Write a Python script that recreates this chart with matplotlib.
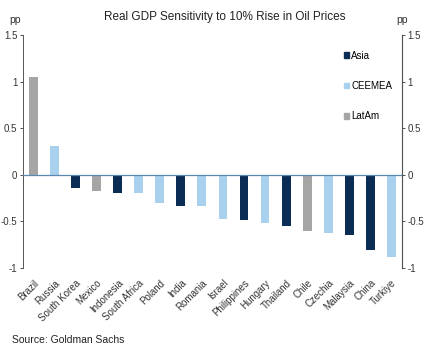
import matplotlib
matplotlib.use("Agg")
import matplotlib.pyplot as plt
from matplotlib.patches import Patch

plt.rcParams['font.family'] = ['Liberation Sans Narrow', 'Liberation Sans', 'DejaVu Sans']

countries = ["Brazil", "Russia", "South Korea", "Mexico", "Indonesia", "South Africa",
             "Poland", "India", "Romania", "Israel", "Philippines", "Hungary",
             "Thailand", "Chile", "Czechia", "Malaysia", "China", "Turkiye"]
regions = ["LatAm", "CEEMEA", "Asia", "LatAm", "Asia", "CEEMEA",
           "CEEMEA", "Asia", "CEEMEA", "CEEMEA", "Asia", "CEEMEA",
           "Asia", "LatAm", "CEEMEA", "Asia", "Asia", "CEEMEA"]
values = [1.05, 0.31, -0.14, -0.17, -0.19, -0.20,
          -0.30, -0.33, -0.33, -0.47, -0.48, -0.52,
          -0.55, -0.60, -0.62, -0.65, -0.81, -0.88]

colors = {"Asia": "#0b2d55", "CEEMEA": "#a9d1ee", "LatAm": "#a5a5a5"}
yticks = [-1, -0.5, 0, 0.5, 1, 1.5]
ytick_labels = ["-1", "-0.5", "0", "0.5", "1", "1.5"]

fig = plt.figure(figsize=(4.3, 3.56), dpi=100)
ax = fig.add_axes([0.0535, 0.247, 0.881, 0.655])

x = list(range(len(countries)))
ax.bar(x, values, width=0.42, color=[colors[r] for r in regions], zorder=2)

ax.set_xlim(-0.5, len(countries) - 0.5)
ax.set_ylim(-1, 1.5)
ax.axhline(0, color="#5b87b5", lw=0.9, zorder=3)

for s in ["top", "bottom"]:
    ax.spines[s].set_visible(False)
ax.spines["left"].set_color("#555555")
ax.spines["left"].set_linewidth(0.7)

ax.set_yticks(yticks)
ax.set_yticklabels(ytick_labels)
ax.tick_params(axis="y", labelsize=7, length=2, width=0.6, colors="#333333", pad=2)
ax.set_xticks(x)
ax.set_xticklabels(countries, rotation=45, ha="right", rotation_mode="anchor",
                   fontsize=7, color="#333333")
ax.tick_params(axis="x", length=0, pad=7)

ax2 = ax.twinx()
ax2.set_ylim(-1, 1.5)
ax2.set_yticks(yticks)
ax2.set_yticklabels(ytick_labels)
ax2.tick_params(axis="y", labelsize=7, length=2, width=0.6, colors="#333333", pad=2)
for s in ["top", "bottom", "left"]:
    ax2.spines[s].set_visible(False)
ax2.spines["right"].set_color("#555555")
ax2.spines["right"].set_linewidth(0.7)

fig.text(0.523, 0.953, "Real GDP Sensitivity to 10% Rise in Oil Prices",
         ha="center", va="center", fontsize=8.5, color="#222222")
fig.text(0.035, 0.943, "pp", ha="center", va="center", fontsize=7.5, color="#333333")
fig.text(0.935, 0.943, "pp", ha="center", va="center", fontsize=7.5, color="#333333")

handles = [Patch(color=colors[k], label=k) for k in ["Asia", "CEEMEA", "LatAm"]]
leg = ax.legend(handles=handles, loc="upper left", bbox_to_anchor=(0.825, 0.97),
                frameon=False, fontsize=7, handlelength=0.5, handleheight=0.5,
                handletextpad=0.2, labelspacing=2.1)

fig.text(0.028, 0.045, "Source: Goldman Sachs", ha="left", va="center",
         fontsize=7.5, color="#222222", family=["Liberation Sans", "DejaVu Sans"])

fig.savefig("out.png", dpi=100)
